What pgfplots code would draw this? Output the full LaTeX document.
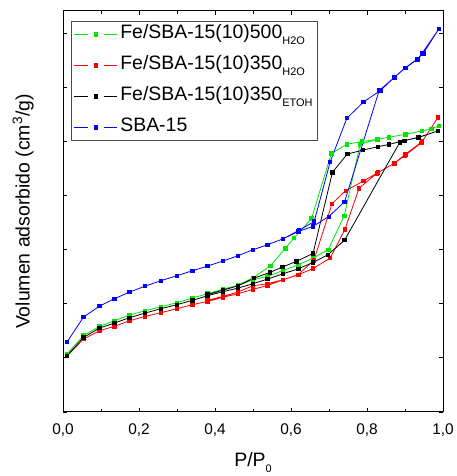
\documentclass[border=0pt]{standalone}
\usepackage{pgfplots}
\pgfplotsset{compat=1.18}
\usepackage{fontspec}
\setmainfont{Liberation Sans}
\definecolor{cgreen}{RGB}{0,230,0}
\definecolor{cred}{RGB}{255,0,0}
\definecolor{cblue}{RGB}{0,0,255}
\newcommand{\sub}[1]{\raisebox{-6bp}{\fontsize{11}{12}\selectfont #1}}
\newcommand{\lf}{\fontsize{19.5}{22}\selectfont}
\begin{document}
\begin{tikzpicture}
\begin{axis}[
  scale only axis, width=380bp, height=401bp,
  xmin=0, xmax=1, ymin=0, ymax=7.41,
  xtick={0,0.2,0.4,0.6,0.8,1.0}, minor x tick num=1,
  ytick={0,1,2,3,4,5,6,7}, yticklabels={},
  tick align=inside, major tick length=4bp, minor tick length=3bp,
  xtick pos=both, ytick pos=both,
  axis line style={line width=1bp}, tick style={line width=0.8bp, black},
  /pgf/number format/assume math mode=true,
  /pgf/number format/.cd, use comma, fixed, fixed zerofill, precision=1, /pgfplots/.cd,
  ticklabel style={font=\fontsize{15.5}{18}\selectfont},
  xticklabel style={yshift=-8bp},
  xlabel={P/P\sub{0}},
  xlabel style={at={(axis description cs:0.5,-0.135)}, anchor=base, font=\lf},
  ylabel={Volumen adsorbido (cm\textsuperscript{3}/g)},
  ylabel style={at={(axis description cs:-0.105,0.5)}, anchor=center, font=\lf},
  every axis plot/.append style={line width=0.8bp, mark=square*, mark size=1.7bp},
  legend style={at={(0.021,0.975)}, anchor=north west, draw=gray!60!black, line width=1bp,
    inner xsep=2bp, inner ysep=1bp, /tikz/row sep=7bp,
    nodes={inner xsep=3bp, inner ysep=2bp, text height=14bp, text depth=6bp}},
  legend cell align=left,
  legend image code/.code={
    \draw[#1, mark=none] (0cm,0cm) -- (0.5cm,0cm);
    \draw[#1, mark=none] (1.05cm,0cm) -- (1.52cm,0cm);
    \draw[#1, mark repeat=1, mark phase=1] plot coordinates {(0.77cm,0cm)};
  },
]
\addplot[cgreen, mark options={fill=cgreen}] coordinates {
(0.0105,1.071)(0.054,1.415)(0.096,1.582)(0.135,1.686)(0.175,1.791)(0.216,1.871)(0.257,1.945)(0.299,2.018)(0.340,2.105)(0.380,2.185)(0.420,2.258)(0.460,2.338)(0.499,2.443)(0.538,2.505)(0.579,2.615)(0.619,2.72)(0.658,2.843)(0.698,3.0)(0.740,3.625)(0.782,4.948)(0.827,5.040)(0.858,5.077)(0.901,5.132)(0.945,5.194)(0.969,5.231)(0.989,5.286)
(0.969,5.231)(0.945,5.194)(0.901,5.132)(0.858,5.077)(0.827,5.040)(0.786,4.997)(0.747,4.948)(0.706,4.775)(0.654,3.575)(0.608,3.212)(0.585,3.025)(0.546,2.702)(0.499,2.474)(0.460,2.345)(0.420,2.265)(0.380,2.19)
};
\addlegendentry{\lf Fe/SBA-15(10)500\sub{H2O}}
\addplot[cred, mark options={fill=cred}] coordinates {
(0.0105,1.034)(0.054,1.348)(0.096,1.502)(0.135,1.582)(0.175,1.686)(0.216,1.766)(0.257,1.834)(0.299,1.908)(0.340,1.982)(0.380,2.043)(0.420,2.117)(0.460,2.185)(0.499,2.265)(0.538,2.338)(0.579,2.443)(0.619,2.535)(0.658,2.652)(0.703,2.843)(0.742,3.375)(0.779,4.135)(0.826,4.412)(0.872,4.597)(0.900,4.74)(0.943,4.975)(0.987,5.446)
(0.945,4.997)(0.901,4.763)(0.872,4.597)(0.829,4.425)(0.790,4.265)(0.744,4.09)(0.708,3.85)(0.660,2.80)(0.618,2.535)(0.578,2.443)(0.538,2.369)(0.499,2.332)(0.460,2.215)(0.420,2.135)(0.380,2.062)
};
\addlegendentry{\lf Fe/SBA-15(10)350\sub{H2O}}
\addplot[black, mark options={fill=black}] coordinates {
(0.0105,1.04)(0.054,1.378)(0.096,1.551)(0.135,1.643)(0.175,1.742)(0.216,1.828)(0.257,1.908)(0.299,1.982)(0.340,2.062)(0.380,2.148)(0.420,2.222)(0.460,2.289)(0.499,2.369)(0.538,2.455)(0.579,2.554)(0.619,2.646)(0.658,2.763)(0.697,2.905)(0.741,3.175)(0.886,4.98)(0.898,5.015)(0.935,5.075)(0.987,5.194)
(0.935,5.071)(0.898,5.015)(0.858,4.945)(0.828,4.9)(0.789,4.84)(0.748,4.765)(0.709,4.43)(0.658,2.93)(0.614,2.782)(0.577,2.677)(0.544,2.578)(0.503,2.474)(0.460,2.33)(0.420,2.25)(0.380,2.17)
};
\addlegendentry{\lf Fe/SBA-15(10)350\sub{ETOH}}
\addplot[cblue, mark options={fill=cblue}] coordinates {
(0.0105,1.292)(0.054,1.754)(0.096,1.957)(0.135,2.092)(0.175,2.215)(0.216,2.326)(0.257,2.425)(0.299,2.517)(0.340,2.609)(0.380,2.695)(0.420,2.788)(0.460,2.886)(0.499,2.997)(0.538,3.089)(0.579,3.200)(0.619,3.335)(0.658,3.43)(0.699,3.61)(0.741,3.885)(0.832,5.94)(0.873,6.19)(0.901,6.357)(0.933,6.517)(0.945,6.628)(0.989,7.077)
(0.948,6.628)(0.932,6.52)(0.900,6.357)(0.872,6.185)(0.835,5.938)(0.791,5.73)(0.747,5.43)(0.703,4.62)(0.661,3.52)(0.620,3.354)(0.579,3.20)(0.538,3.089)(0.499,2.997)(0.460,2.886)(0.420,2.788)(0.380,2.695)
};
\addlegendentry{\lf SBA-15}
\coordinate (sw) at (rel axis cs:0,0);
\coordinate (ne) at (rel axis cs:1,1);
\end{axis}
\pgfresetboundingbox
\path ([shift={(-63bp,-64bp)}]sw) rectangle ([shift={(13bp,11bp)}]ne);
\end{tikzpicture}
\end{document}
